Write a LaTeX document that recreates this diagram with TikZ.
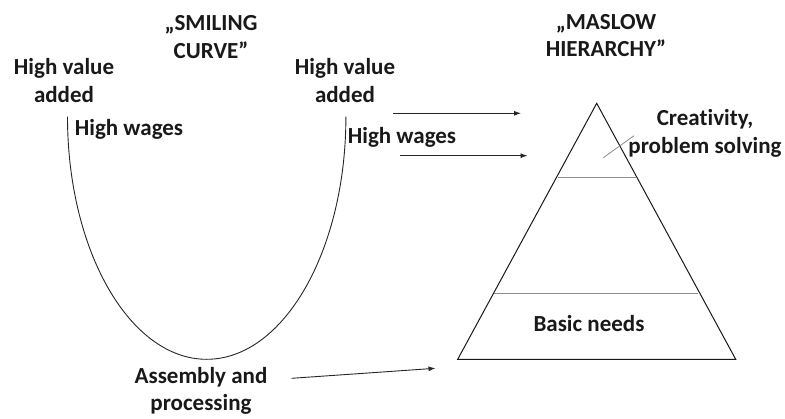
\documentclass[tikz,border=0pt]{standalone}
\usepackage{fontspec}
\setmainfont{Carlito}[Ligatures=NoCommon]
\usetikzlibrary{arrows.meta}
\begin{document}
\begin{tikzpicture}[x=1pt,y=-1pt,
  label/.style={font=\bfseries\fontsize{23}{27.5}\selectfont, align=center, inner sep=0pt, text=black!90},
  curveline/.style={draw=black!85, line width=0.9pt},
  pyramid/.style={draw=black!90, line width=1pt, line join=miter},
  divider/.style={draw=black!45, line width=1pt},
  pointer/.style={draw=black!85, line width=0.9pt, -{Latex[length=7pt,width=5pt]}}
]
\useasboundingbox (0,0) rectangle (785,418);

% headings
\node[label] (smile) at (211,37) {„SMILING\\CURVE”};
\node[label] (maslow) at (606,35.5) {„MASLOW\\HIERARCHY”};

% smiling curve
\coordinate (ctopL) at (67.5,116.7);
\draw[curveline] (ctopL) arc[start angle=180, end angle=0, x radius=139.2, y radius=242.6];

% labels around the curve
\node[label] (hvaL) at (64,80.5) {High value\\added};
\node[label] (hwL) at (129,129.5) {High wages};
\node[label] (hvaR) at (345,80.5) {High value\\added};
\node[label] (hwR) at (402,137.5) {High wages};
\node[label] (asm) at (201,391) {Assembly and\\processing};

% pyramid
\coordinate (apex) at (596.7,103.3);
\coordinate (bl) at (457.7,359.3);
\coordinate (br) at (735.7,359.3);
\draw[pyramid] (apex) -- (br) -- (bl) -- cycle;
\coordinate (d1l) at (557.5,177.7);
\coordinate (d1r) at (636,177.7);
\coordinate (d2l) at (494.3,293.7);
\coordinate (d2r) at (698.3,293.7);
\draw[divider] (d1l) -- (d1r);
\draw[divider] (d2l) -- (d2r);
\coordinate (tickA) at (603.3,157.7);
\coordinate (tickB) at (634,135.7);
\draw[divider, line width=0.8pt] (tickA) -- (tickB);

\node[label] (crea) at (705,133.5) {Creativity,\\problem solving};
\node[label] (basic) at (589,324) {Basic needs};

% arrows towards the pyramid
\coordinate (p1s) at (393.3,113.3);
\coordinate (p1e) at (521,113.3);
\coordinate (p2s) at (400,155.7);
\coordinate (p2e) at (527.5,155.7);
\coordinate (p3s) at (291.7,378.3);
\coordinate (p3e) at (435.5,368.3);
\draw[pointer] (p1s) -- (p1e);
\draw[pointer] (p2s) -- (p2e);
\draw[pointer] (p3s) -- (p3e);
\end{tikzpicture}
\end{document}
